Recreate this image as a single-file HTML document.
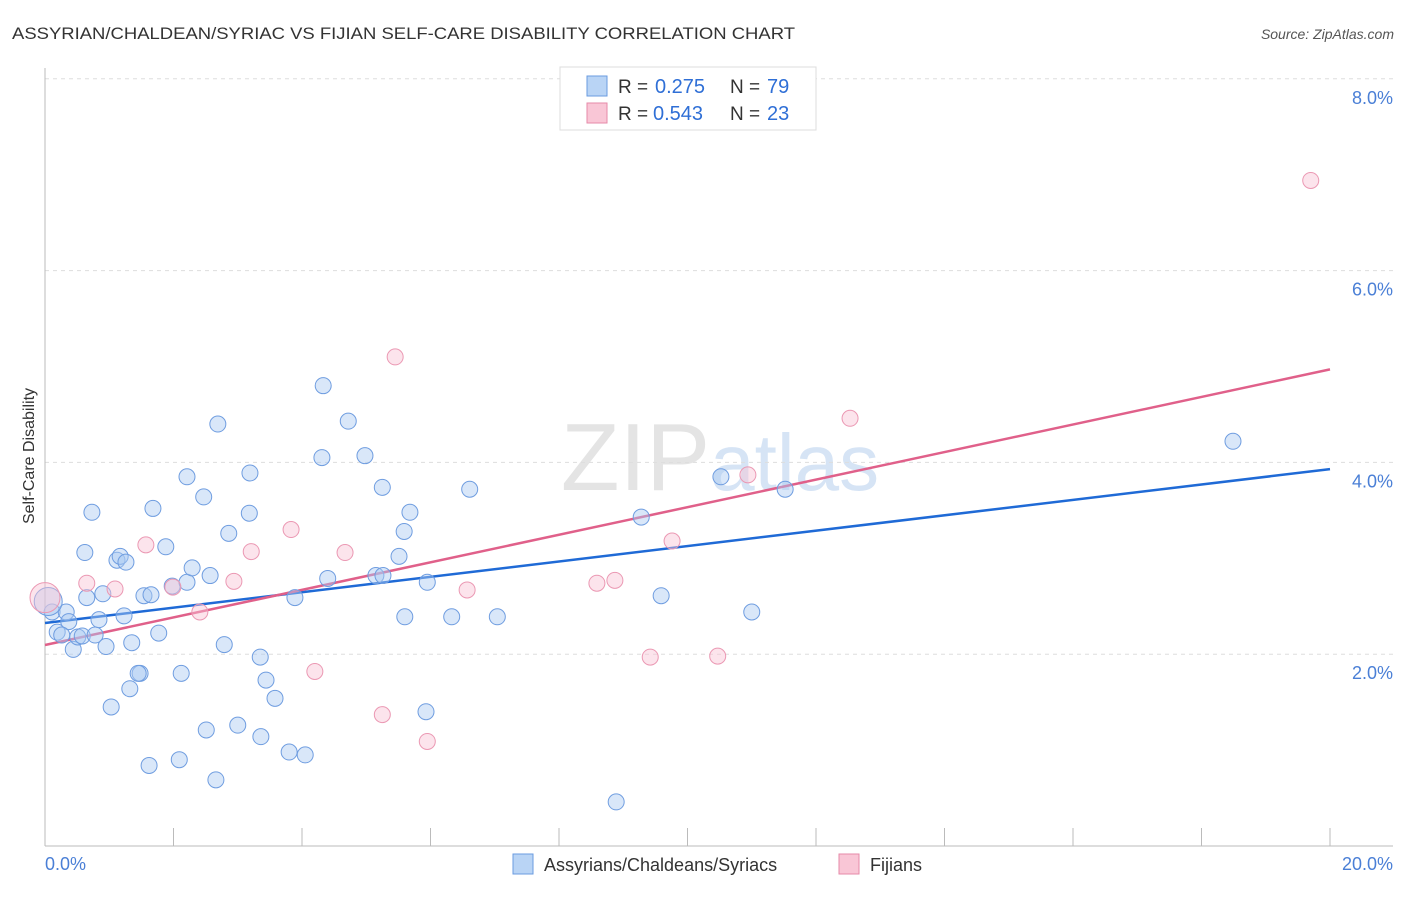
<!DOCTYPE html>
<html><head><meta charset="utf-8"><style>
body{margin:0;background:#fff;font-family:"Liberation Sans",sans-serif;}
svg text{font-family:"Liberation Sans",sans-serif;}
</style></head><body>
<svg id="chart" width="1406" height="892" xmlns="http://www.w3.org/2000/svg">
<text x="12" y="39" font-size="17" fill="#333" textLength="783" lengthAdjust="spacingAndGlyphs">ASSYRIAN/CHALDEAN/SYRIAC VS FIJIAN SELF-CARE DISABILITY CORRELATION CHART</text>
<text x="1394" y="39" font-size="14" fill="#555" text-anchor="end" font-style="italic">Source: ZipAtlas.com</text>
<text x="720" y="490" font-size="96" fill="#e4e4e4" text-anchor="middle" font-family="Liberation Serif">ZIP<tspan fill="#d6e4f5" font-family="Liberation Sans" font-size="80">atlas</tspan></text>
<g id="grid"></g>
<g id="axes"></g>
<text transform="translate(34,456) rotate(-90)" font-size="16" fill="#333" text-anchor="middle">Self-Care Disability</text>
<g id="lines"></g>
<g id="points"></g>
<g>
<rect x="560" y="67" width="256" height="63" fill="#fff" stroke="#ddd"/>
<rect x="587" y="76" width="20" height="20" fill="#b9d4f5" stroke="#6a9be0"/>
<rect x="587" y="103" width="20" height="20" fill="#f9c6d6" stroke="#e68aa8"/>
<text x="618" y="93" font-size="19" fill="#333">R = </text>
<text x="655" y="93" font-size="20" fill="#2f6fd6">0.275</text>
<text x="730" y="93" font-size="19" fill="#333">N = </text>
<text x="767" y="93" font-size="20" fill="#2f6fd6">79</text>
<text x="618" y="120" font-size="19" fill="#333">R = </text>
<text x="653" y="120" font-size="20" fill="#2f6fd6">0.543</text>
<text x="730" y="120" font-size="19" fill="#333">N = </text>
<text x="767" y="120" font-size="20" fill="#2f6fd6">23</text>
</g>
<g>
<rect x="513" y="854" width="20" height="20" fill="#b9d4f5" stroke="#6a9be0"/>
<text x="544" y="871" font-size="18" fill="#333">Assyrians/Chaldeans/Syriacs</text>
<rect x="839" y="854" width="20" height="20" fill="#f9c6d6" stroke="#e68aa8"/>
<text x="870" y="871" font-size="18" fill="#333">Fijians</text>
</g>
</svg>
<script>
const yTicks=[2,4,6,8];
const xTickLabels=["0.0%","20.0%"];
const blueX=[0.11,0.19,0.33,0.37,0.26,0.44,0.51,0.58,0.78,0.65,0.84,0.90,0.95,0.73,0.62,1.12,1.17,1.26,1.23,1.03,1.32,1.35,1.48,1.45,1.54,1.65,1.77,1.68,1.88,1.98,2.21,2.29,2.12,1.62,2.09,2.21,2.47,2.57,2.69,2.79,2.86,3.19,3.18,3.35,3.44,3.58,3.36,3.00,2.51,2.66,3.89,3.80,4.05,4.31,4.33,4.40,4.72,4.98,5.25,5.15,5.26,5.51,5.59,5.68,5.60,5.95,5.93,6.33,6.61,7.04,8.89,9.28,9.59,10.52,11.00,11.52,18.49,0.05];
const blueY=[2.44,2.23,2.44,2.34,2.20,2.05,2.18,2.19,2.20,2.59,2.36,2.63,2.08,3.48,3.06,2.98,3.02,2.96,2.40,1.45,1.64,2.12,1.80,1.80,2.61,2.62,2.22,3.52,3.12,2.71,2.75,2.90,1.80,0.84,0.90,3.85,3.64,2.82,4.40,2.10,3.26,3.89,3.47,1.97,1.73,1.54,1.14,1.26,1.21,0.69,2.59,0.98,0.95,4.05,4.80,2.79,4.43,4.07,3.74,2.82,2.82,3.02,3.28,3.48,2.39,2.75,1.40,2.39,3.72,2.39,0.46,3.43,2.61,3.85,2.44,3.72,4.22,2.55];
const pinkX=[0.0,0.65,1.09,1.57,1.99,2.41,2.94,3.21,3.83,4.20,4.67,5.25,5.45,5.95,6.57,8.59,8.87,9.42,9.76,10.47,10.94,12.53,19.70];
const pinkY=[2.59,2.74,2.68,3.14,2.70,2.44,2.76,3.07,3.30,1.82,3.06,1.37,5.10,1.09,2.67,2.74,2.77,1.97,3.18,1.98,3.87,4.46,6.94];
const blueTrend=[2.325,3.93];
const pinkTrend=[2.096,4.97];
const NS="http://www.w3.org/2000/svg";
const X0=45,X1=1330,Y0=846,PXY=95.9;
function sx(v){return X0+(X1-X0)*v/20;}
function sy(v){return Y0-v*PXY;}
function mk(t,a,p){const e=document.createElementNS(NS,t);for(const k in a)e.setAttribute(k,a[k]);p.appendChild(e);return e;}
const grid=document.getElementById('grid'),axes=document.getElementById('axes');
yTicks.forEach(t=>{
 const l=mk('line',{x1:45,x2:1393,y1:sy(t),y2:sy(t),stroke:'#ddd','stroke-dasharray':'4,4'},grid);
 
 
 const tx=mk('text',{x:1393,y:sy(t)+25,'font-size':18,fill:'#4a7fd6','text-anchor':'end'},grid);
 tx.textContent=t.toFixed(1)+'%';
 
 
});
mk('line',{x1:45,x2:45,y1:68,y2:846,stroke:'#bbb'},axes);
mk('line',{x1:45,x2:1393,y1:846,y2:846,stroke:'#bbb'},axes);
for(let i=0;i<=10;i++){const tk=mk('line',{x1:sx(i*2),x2:sx(i*2),y1:828,y2:846,stroke:'#bbb'},axes);
 
 }
const xl0=mk('text',{x:45,y:870,'font-size':18,fill:'#4a7fd6'},axes);xl0.textContent=xTickLabels[0];


const xl1=mk('text',{x:1393,y:870,'font-size':18,fill:'#4a7fd6','text-anchor':'end'},axes);xl1.textContent=xTickLabels[1];


const pts=document.getElementById('points');
blueX.forEach((x,i)=>{const c=mk('circle',{cx:sx(x),cy:sy(blueY[i]),r:i==blueX.length-1?14:8,fill:'rgba(170,202,242,0.45)',stroke:'#6f9de0','stroke-width':1},pts);
 
 });
pinkX.forEach((x,i)=>{const c=mk('circle',{cx:sx(x),cy:sy(pinkY[i]),r:i==0?15:8,fill:'rgba(248,195,213,0.45)',stroke:'#eb98b3','stroke-width':1},pts);
 
 });
const ln=document.getElementById('lines');
const b=mk('line',{x1:sx(0),y1:sy(blueTrend[0]),x2:sx(20),y2:sy(blueTrend[1]),stroke:'#1f6ad6','stroke-width':2.5},ln);


const p=mk('line',{x1:sx(0),y1:sy(pinkTrend[0]),x2:sx(20),y2:sy(pinkTrend[1]),stroke:'#e0608a','stroke-width':2.5},ln);


</script>
</body></html>
